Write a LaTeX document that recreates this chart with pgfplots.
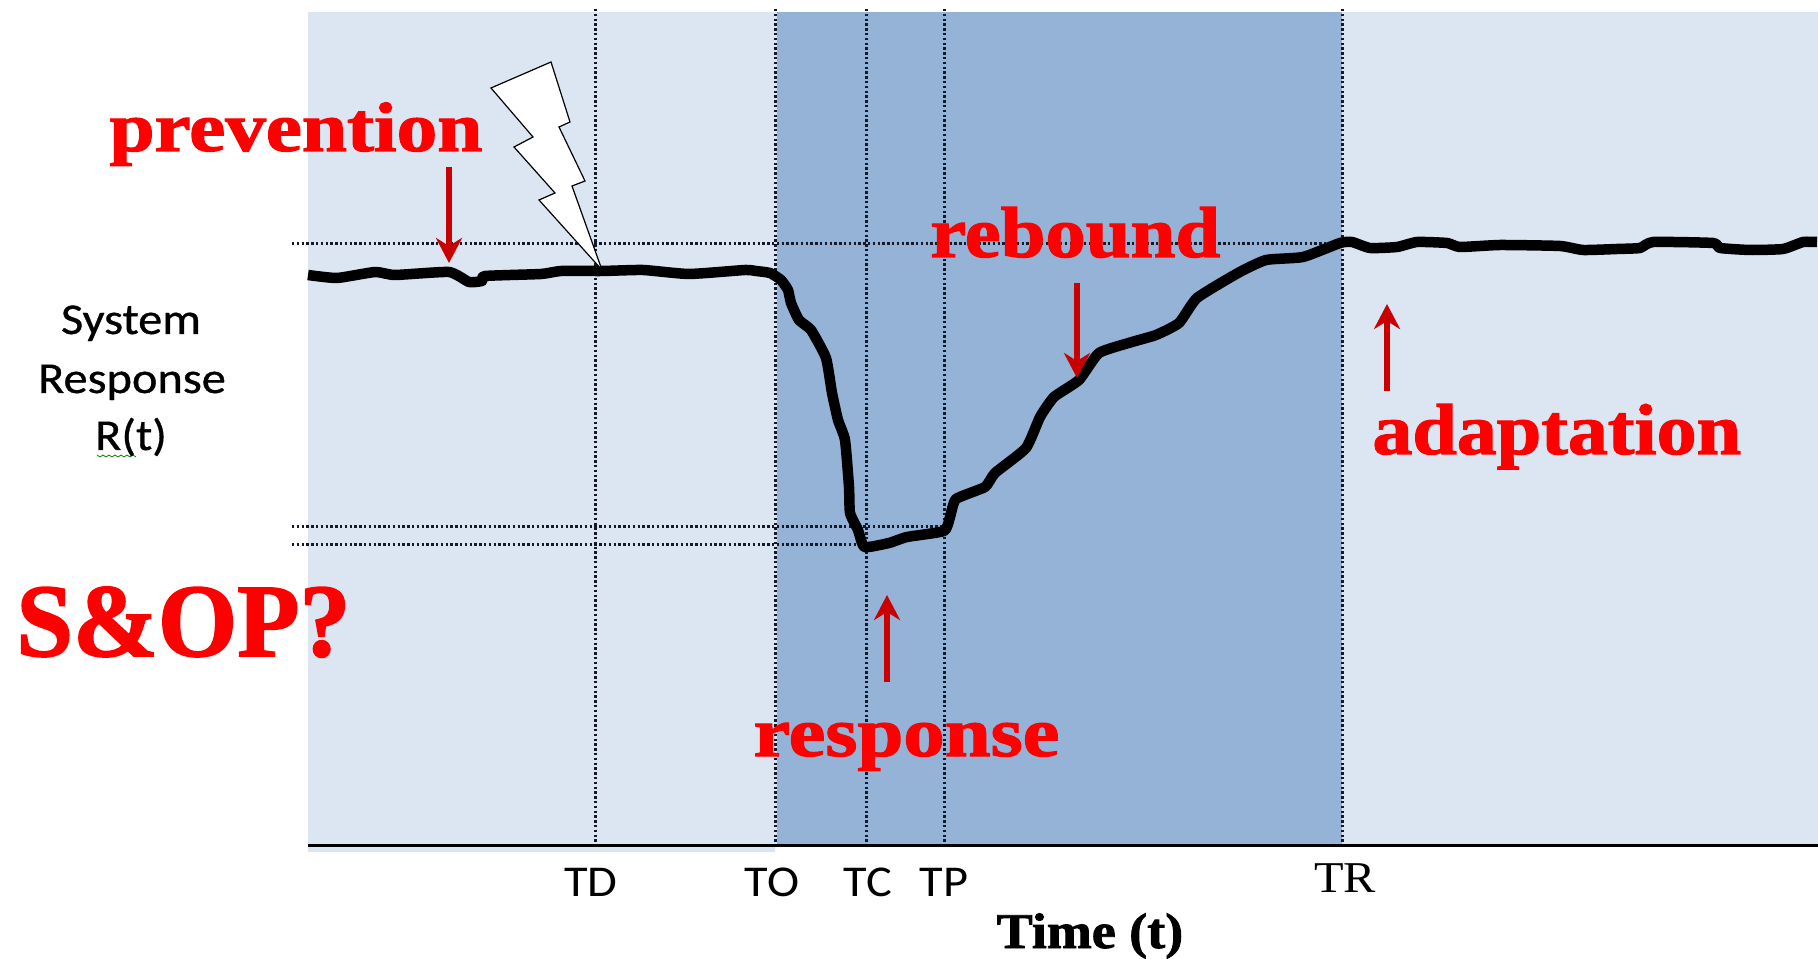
\documentclass[border=0pt]{standalone}
\usepackage{fontspec}
\setmainfont{Liberation Serif}[BoldFeatures={FakeBold=1.6}]
\newfontfamily\calib{Carlito}
\newfontfamily\calibheavy[FakeBold=0.7]{Carlito}
\usepackage{pgfplots}
\pgfplotsset{compat=1.18}
\usetikzlibrary{arrows.meta}

\definecolor{lightband}{HTML}{DCE6F2}
\definecolor{darkband}{HTML}{95B3D7}
\definecolor{arrowred}{HTML}{C80000}
\definecolor{dotline}{HTML}{141828}

% x and y are in picture pixels, 1 px = 0.5pt, y measured from the bottom
\newcommand{\redlabel}[4]{\node[anchor=base west,inner sep=0pt,text=red,xscale=#3,
    font=\fontsize{#4}{#4}\selectfont\bfseries] at (axis cs:#1) {#2};}
\newcommand{\blk}[2]{\node[anchor=base,inner sep=0pt,xscale=1.1,
    font=\fontsize{22}{22}\selectfont\calibheavy] at (axis cs:#1) {#2};}

\begin{document}
\begin{tikzpicture}
\path[use as bounding box] (0,0) rectangle (909pt,479pt);
\begin{axis}[
  at={(154pt,56.5pt)},anchor=south west,
  scale only axis,width=755pt,height=416.5pt,
  xmin=308,xmax=1818,ymin=113,ymax=946,
  clip=false,axis on top,
  axis x line*=bottom,axis y line=none,
  axis line style={black,line width=1.5pt},
  major tick length=0pt,
  xtick={591,772,868,944,1345},
  xticklabels={TD,TO,TC,TP,{\raisebox{1.75pt}{\rmfamily TR}}},
  xticklabel style={anchor=base,yshift=-25.5pt,inner sep=0pt,xscale=1.1,
    font=\fontsize{22}{22}\selectfont\calib},
  xlabel={Time (t)},
  every axis x label/.style={at={(axis cs:1090,10)},anchor=base,inner sep=0pt,xscale=1.08,
    font=\fontsize{25}{25}\selectfont\bfseries},
]
% bands
\addplot[fill=lightband,draw=none] coordinates {(308,946)(1818,946)(1818,113)(775,113)(775,106)(308,106)} -- cycle;
\addplot[fill=darkband,draw=none] coordinates {(777,946)(1342,946)(1342,113)(777,113)} -- cycle;

% dotted guides
\pgfplotsset{guide/.style={dotline,line width=1.5pt,dash pattern=on 1.2pt off 1.2pt}}
\addplot[guide] coordinates {(595,949)(595,113)};
\addplot[guide] coordinates {(775.5,949)(775.5,113)};
\addplot[guide] coordinates {(866,949)(866,113)};
\addplot[guide] coordinates {(944,949)(944,113)};
\addplot[guide] coordinates {(1342,949)(1342,113)};
\addplot[guide] coordinates {(292,714)(1342,714)};
\addplot[guide] coordinates {(292,431)(944,431)};
\addplot[guide] coordinates {(292,413)(866,413)};

% system response
\addplot[black,line width=5.25pt,line join=round,smooth,tension=0.3] coordinates {
(308,683)(337,680)(375,686)(395,683)(449,686)(469,676)(482,677)(485,682)(541,684)(561,687)
(602,687)(643,688)(689,684)(745,688)(756,687)(770,685)(781,678)(788,668)(791,655)(799,638)
(811,628)(826,600)(832,565)(838,538)(845,518)(849,471)(850,445)(858,428)(864.5,411)(889,415)
(907,421)(944,427)(950,441)(956,459)(985,471)(995,485)(1026,510)(1040,541)(1054,561)(1079,578)
(1099,605)(1132,616)(1156,623)(1179,635)(1197,660)(1238,685)(1266,698)(1303,701)(1340,715)(1352,716)
(1370,710)(1397,711)(1417,716)(1447,715)(1460,711)(1500,713)(1560,712)(1583,708)(1617,709)(1640,710)
(1653,716)(1713,715)(1720,710)(1750,708)(1783,709)(1803,716)(1817,716)};

% lightning bolt
\addplot[fill=white,draw=black,line width=0.6pt,line join=miter] coordinates {
(551,896)(491,870)(533,821)(514,811)(555,765)(539,758)(602,688)(572,772)(585,777)(559,831)(570,836)} -- cycle;

% arrows
\pgfplotsset{redarrow/.style={arrowred,line width=3pt,-{Stealth[length=12.5pt,width=13pt,inset=4pt]}}}
\addplot[redarrow] coordinates {(449,791)(449,695)};
\addplot[redarrow] coordinates {(1077,675)(1077,580)};
\addplot[redarrow] coordinates {(887,276)(887,363)};
\addplot[redarrow] coordinates {(1387,567)(1387,654)};

% wavy spell-check underline below R(t)
\addplot[green!50!black,line width=0.4pt] coordinates {
(97,503)(100,501)(103,503)(106,501)(109,503)(112,501)(115,503)(118,501)(121,503)(124,501)(127,503)(130,501)(133,503)(136,501)};

\redlabel{109,807}{prevention}{1.16}{35}
\redlabel{930,701}{rebound}{1.12}{36}
\redlabel{753,202}{response}{1.18}{35}
\redlabel{1372,504}{adaptation}{1.11}{36}
\redlabel{16,302}{S\&OP?}{0.98}{52}

\blk{131,624}{System}
\blk{132,565}{Response}
\blk{131,508}{R(t)}
\end{axis}
\end{tikzpicture}
\end{document}
